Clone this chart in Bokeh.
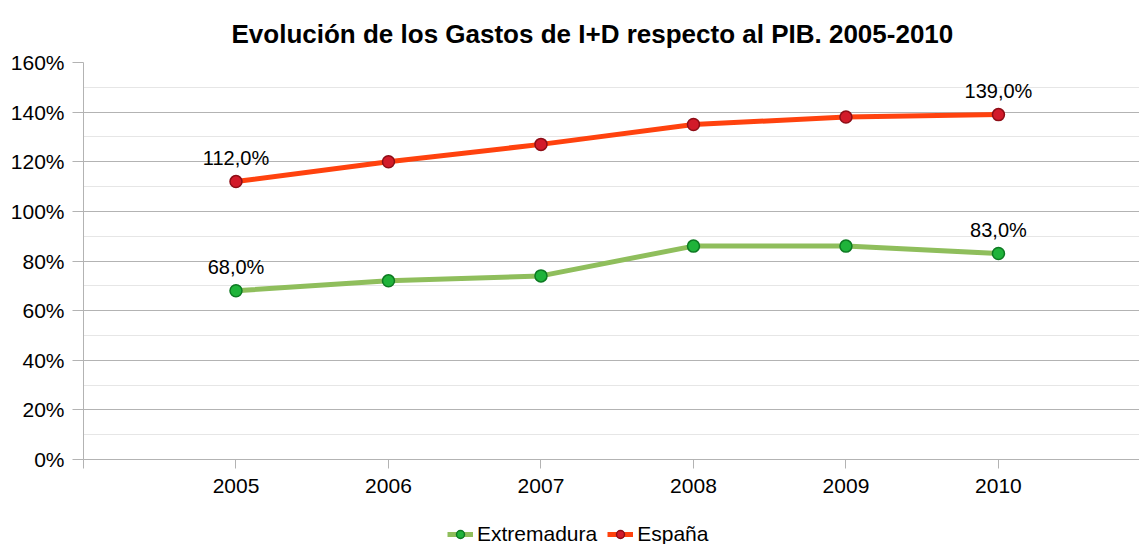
from bokeh.plotting import figure
from bokeh.layouts import column
from bokeh.models import FixedTicker, PrintfTickFormatter, Legend, LegendItem, Range1d, Title
from bokeh.core.properties import value
from bokeh.embed import file_html
from bokeh.resources import INLINE

years = [2005, 2006, 2007, 2008, 2009, 2010]
extremadura = [68, 72, 74, 86, 86, 83]
espana = [112, 120, 127, 135, 138, 139]
series_names = ["Extremadura", "España"]
y_ticks = [0, 20, 40, 60, 80, 100, 120, 140, 160]
y_minor = [10, 30, 50, 70, 90, 110, 130, 150]
title_text = "Evolución de los Gastos de I+D respecto al PIB. 2005-2010"

FONT = "Liberation Sans"
G_LINE, G_FILL, G_EDGE = "#8fbe5c", "#1fb33a", "#0d7a22"
R_LINE, R_FILL, R_EDGE = "#ff420e", "#d21a2a", "#8e0d16"

p = figure(width=1139, height=510, output_backend="svg", toolbar_location=None,
           x_range=Range1d(2004, 2010.925), y_range=Range1d(0, 160))
p.min_border_left = 83
p.min_border_right = 0
p.min_border_top = 62
p.min_border_bottom = 51
p.outline_line_color = None

p.title = Title(text=title_text, align="left", text_font=FONT,
                text_font_size="26px", text_font_style="bold", text_color="#000000",
                offset=148, standoff=27)

# axes
p.yaxis.ticker = FixedTicker(ticks=y_ticks, minor_ticks=y_minor)
p.yaxis.formatter = PrintfTickFormatter(format="%d%%")
p.xaxis.ticker = FixedTicker(ticks=[2004] + years + [2011])
p.xaxis.major_label_overrides = {2004: "", 2011: ""}
for ax in (p.xaxis, p.yaxis):
    ax.axis_line_color = "#b3b3b3"
    ax.major_tick_line_color = "#b3b3b3"
    ax.minor_tick_line_color = None
    ax.major_tick_in = 0
    ax.major_label_text_font = FONT
    ax.major_label_text_font_size = "21px"
    ax.major_label_text_color = "#000000"
p.yaxis.major_tick_out = 11
p.xaxis.major_tick_out = 9
p.yaxis.major_label_standoff = 8
p.xaxis.major_label_standoff = 10

p.xgrid.grid_line_color = None
p.ygrid.ticker = FixedTicker(ticks=y_ticks, minor_ticks=y_minor)
p.ygrid.grid_line_color = "#b3b3b3"
p.ygrid.minor_grid_line_color = "#e6e6e6"

# series
p.line(years, extremadura, line_color=G_LINE, line_width=5)
p.scatter(years, extremadura, marker="circle", size=12,
          fill_color=G_FILL, line_color=G_EDGE, line_width=1.5)
p.line(years, espana, line_color=R_LINE, line_width=5)
p.scatter(years, espana, marker="circle", size=12,
          fill_color=R_FILL, line_color=R_EDGE, line_width=1.5)

# data labels (first and last points)
lab_x = [years[0], years[-1], years[0], years[-1]]
lab_y = [espana[0], espana[-1], extremadura[0], extremadura[-1]]
lab_t = ["%d,0%%" % espana[0], "%d,0%%" % espana[-1],
         "%d,0%%" % extremadura[0], "%d,0%%" % extremadura[-1]]
p.text(lab_x, lab_y, text=lab_t, text_font=value(FONT), text_font_size="20px",
       text_align="center", text_baseline="bottom", y_offset=-13, text_color="#000000")

# legend strip below the chart (its glyphs reuse the series data, kept outside the strip's view)
q = figure(width=1139, height=34, output_backend="svg", toolbar_location=None,
           x_range=Range1d(0, 1), y_range=Range1d(1000, 1001),
           x_axis_location=None, y_axis_location=None)
q.min_border = 0
q.outline_line_color = None
q.grid.grid_line_color = None
gl = q.line(years, extremadura, line_color=G_LINE, line_width=5)
gm = q.scatter(years, extremadura, marker="circle", size=12, fill_color=G_FILL, line_color=G_EDGE, line_width=1.5)
rl = q.line(years, espana, line_color=R_LINE, line_width=5)
rm = q.scatter(years, espana, marker="circle", size=12, fill_color=R_FILL, line_color=R_EDGE, line_width=1.5)
legend = Legend(items=[LegendItem(label=series_names[0], renderers=[gl, gm]),
                       LegendItem(label=series_names[1], renderers=[rl, rm])],
                orientation="horizontal", location=(364, -2),
                label_text_font=FONT, label_text_font_size="21px", label_text_color="#000000",
                border_line_color=None, background_fill_alpha=0,
                glyph_width=26, glyph_height=20, spacing=10, padding=2, margin=0,
                label_standoff=4, label_height=20)
q.add_layout(legend, "center")

open("out.html", "w").write(file_html(column(p, q, spacing=0), INLINE))
